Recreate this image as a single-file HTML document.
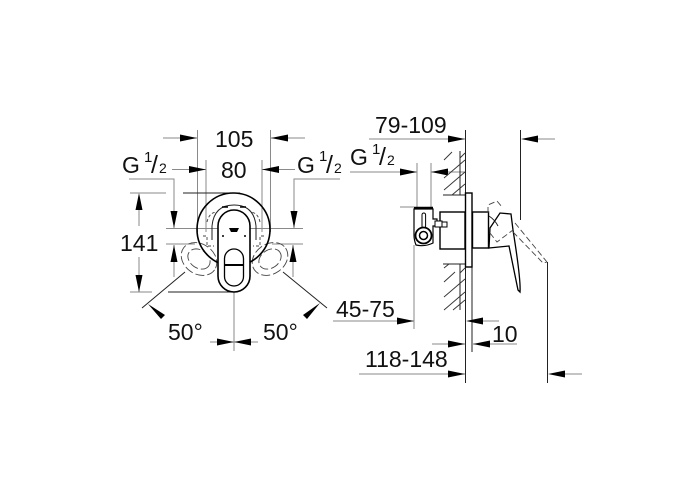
<!DOCTYPE html>
<html><head><meta charset="utf-8"><style>
html,body{margin:0;padding:0;background:#fff;width:700px;height:500px;overflow:hidden}
svg{display:block}
text{font-family:"Liberation Sans",sans-serif;fill:#111;font-size:23px}
.s{font-size:15px}
.t{font-size:14px}
.l{font-size:25px}
.g{stroke:#8a8a8a;stroke-width:1;fill:none}
.k{stroke:#222;stroke-width:1;fill:none}
.b{stroke:#000;stroke-width:1.5;fill:none}
.d{stroke:#444;stroke-width:.9;fill:none;stroke-dasharray:9 3}
.h{stroke:#333;stroke-width:.9;fill:none}
.a{fill:#000;stroke:none}
</style></head><body>
<svg width="700" height="500" viewBox="0 0 700 500" xmlns="http://www.w3.org/2000/svg">
<!-- left view: dimension lines -->
<path class="g" d="M197.5 130V232M270.5 130V232M206 160V232M262 160V232M163 138H197M271 138H305M172 169.500H206M262 169.500H295M129 179H174V228M340 179H294V228M166 228.500H303M130 193H166M139 210V226M139 257V292M130 292H152M166 244H195M272 244H303M174 245V277M293 245V277M234 292V351M210 342H258"/>
<path class="k" d="M183 193H240M168 292H234M142 308L185 272M283 272L327 308"/>
<!-- left view: arrowheads -->
<path class="a" d="M197 138L180 134.500V141.500ZM271 138L288 134.500V141.500ZM206 169.500L189 166V173ZM262 169.500L279 166V173ZM174 228L170.500 211H177.500ZM294 228L290.500 211H297.500ZM139 193L135.500 210H142.500ZM139 292L135.500 275H142.500ZM174 245L170.500 262H177.500ZM293 245L289.500 262H296.500ZM234 342L217 338.500V345.500ZM234 342L251 338.500V345.500ZM148 304L161 319L165 315ZM320 303L303 315L307 319Z"/>
<!-- dashed rotated handles -->
<g class="d"><ellipse cx="199" cy="259" rx="19" ry="15" transform="rotate(35 199 259)"/><ellipse cx="199" cy="259" rx="12" ry="9" transform="rotate(35 199 259)"/><ellipse cx="270" cy="259" rx="19" ry="15" transform="rotate(-35 270 259)"/><ellipse cx="270" cy="259" rx="12" ry="9" transform="rotate(-35 270 259)"/></g>
<!-- escutcheon -->
<circle cx="233.500" cy="229.500" r="36.500" fill="none" stroke="#000" stroke-width="1.600"/>
<path class="d" style="stroke-dasharray:3 2" d="M207 222Q209 213 216 212M260 222Q258 213 251 212M203 236H207V246H214M264 236H260V246H253"/>
<path class="k" d="M212 240V226Q214 205 234 205Q254 205 256 226V240"/>
<path class="b" d="M222 207H228M240 207H246"/>
<!-- lever -->
<rect x="218" y="210" width="32" height="82" rx="16" ry="16" fill="#fff" stroke="#000" stroke-width="1.600"/>
<rect x="224.500" y="249" width="19" height="37" rx="9.500" ry="9.500" fill="#fff" stroke="#000" stroke-width="1.300"/>
<path d="M224.500 265H243.500" stroke="#000" stroke-width="2" fill="none"/>
<path class="a" d="M229 228H239L237 232H231Z"/>
<circle class="a" cx="223" cy="236" r="1"/><circle class="a" cx="245" cy="236" r="1"/>
<!-- right view: dimensions -->
<path class="g" d="M369 139H465M538 139H555M350 172H417M417 163V207M431 163V207M431 172H465M400 207H414M414 245V329M333 321H414M483 321H499M432 344H465M473 344H517M359 374H465M565 374H582"/>
<path class="k" d="M465.500 130V193M520.500 130V220M465.500 267V383M472 267V352M547.500 262V383"/>
<path class="a" d="M465 139L448 135.500V142.500ZM521 139L538 135.500V142.500ZM417 172L400 168.500V175.500ZM431 172L448 168.500V175.500ZM414 321L397 317.500V324.500ZM466 321L483 317.500V324.500ZM465 344L448 340.500V347.500ZM473 344L490 340.500V347.500ZM465 374L448 370.500V377.500ZM548 374L565 370.500V377.500Z"/>
<!-- wall hatch -->
<path class="k" d="M460 151V195M443 195H465M460 264V310M443 264H465"/>
<path class="h" d="M444 160L452 152M444 178L465 160M444 190L465 172M452 195L465 184M460 158L465 153M444 282L455 272M449 264L444 268M444 297L465 279M444 310L465 292M453 310L465 300M460 273L465 268"/>
<!-- body -->
<rect x="465.500" y="193" width="6.500" height="74" fill="#fff" stroke="#000" stroke-width="1.400"/>
<rect x="440" y="212" width="25" height="37" fill="#fff" stroke="#000" stroke-width="1.400"/>
<rect x="472.500" y="212" width="16" height="36" fill="#fff" stroke="#000" stroke-width="1.400"/>
<path d="M489 248L509 246L518 290L520 292Q521 280 513 230L511 214L500 213L490 228Z" fill="#fff" stroke="#000" stroke-width="1.300"/>
<path class="k" d="M489 216Q495 220 498 226"/>
<path class="d" style="stroke-dasharray:6 3" d="M488 213V205L497 201L502 207M490 233L497 242L513 230M515 223L547 262M513 232L543 263L547 262"/>
<!-- fitting -->
<path d="M414 209H433V219H437V226H433V243Q425 247 416 245Q414 240 414 235Z" fill="#fff" stroke="#000" stroke-width="1.200"/>
<path d="M414 208H433" stroke="#000" stroke-width="2.400" fill="none"/>
<rect x="422" y="213" width="3.600" height="15" rx="1.800" fill="#fff" stroke="#000"/>
<circle cx="423.500" cy="235.500" r="8" fill="#fff" stroke="#000" stroke-width="1.800"/>
<circle cx="423.500" cy="235.500" r="4" fill="#fff" stroke="#000" stroke-width="1.500"/>
<rect x="435" y="221" width="7" height="6" fill="#fff" stroke="#000"/>
<rect x="442" y="222" width="5" height="5" fill="#fff" stroke="#000"/>
<!-- labels -->
<text x="215" y="147">105</text>
<text x="221" y="178">80</text>
<text x="122" y="173">G</text><text x="144" y="162" class="s">1</text><text x="151" y="173" class="l">/</text><text x="159" y="173" class="t">2</text>
<text x="297" y="173">G</text><text x="319" y="161" class="s">1</text><text x="326" y="173" class="l">/</text><text x="334" y="173" class="t">2</text>
<text x="120" y="251">141</text>
<text x="168" y="340">50°</text>
<text x="263" y="340">50°</text>
<text x="375" y="133">79-109</text>
<text x="350" y="165">G</text><text x="372" y="154" class="s">1</text><text x="379" y="165" class="l">/</text><text x="387" y="165" class="t">2</text>
<text x="336" y="317">45-75</text>
<text x="492" y="342">10</text>
<text x="365" y="367">118-148</text>
</svg>
</body></html>
